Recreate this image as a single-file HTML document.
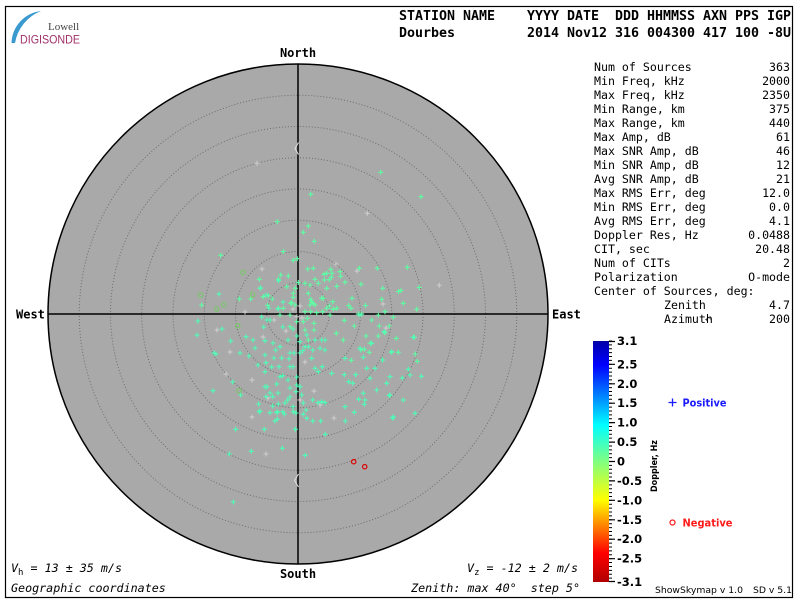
<!DOCTYPE html>
<html><head><meta charset="utf-8"><style>
html,body{margin:0;padding:0;background:#fff;}
svg{display:block;}
.mono{font-family:"DejaVu Sans Mono","Liberation Mono",monospace;}
.sans{font-family:"DejaVu Sans","Liberation Sans",sans-serif;}
</style></head><body>
<svg width="800" height="600" viewBox="0 0 800 600" xmlns="http://www.w3.org/2000/svg">
<defs>
<linearGradient id="jet" x1="0" y1="0" x2="0" y2="1">
<stop offset="0" stop-color="#0000a8"/>
<stop offset="0.1" stop-color="#0000ff"/>
<stop offset="0.35" stop-color="#00ffff"/>
<stop offset="0.5" stop-color="#80ff80"/>
<stop offset="0.66" stop-color="#ffff00"/>
<stop offset="0.88" stop-color="#ff0000"/>
<stop offset="1" stop-color="#b00000"/>
</linearGradient>
</defs>
<rect x="0" y="0" width="800" height="600" fill="#fff"/>
<rect x="5.5" y="6.5" width="787" height="591" fill="none" stroke="#000" stroke-width="1.2"/>

<!-- logo -->
<path d="M11.5,43 A33,33 0 0 1 41,11 A42,42 0 0 0 15,43 Z" fill="#3a9ad0"/>
<text x="48" y="30" font-family="Liberation Serif, serif" font-size="11" fill="#444">Lowell</text>
<text x="20" y="43.5" font-family="Liberation Sans, sans-serif" font-size="12" fill="#a0306a" textLength="60" lengthAdjust="spacingAndGlyphs">DIGISONDE</text>

<!-- header -->
<g class="mono" font-weight="bold" font-size="13.3" fill="#000">
<text x="399" y="20">STATION NAME</text>
<text x="527" y="20">YYYY DATE</text>
<text x="615" y="20" textLength="176" lengthAdjust="spacing">DDD HHMMSS AXN PPS IGP</text>
<text x="399" y="37">Dourbes</text>
<text x="527" y="37" textLength="264" lengthAdjust="spacing">2014 Nov12 316 004300 417 100 -8U</text>
</g>

<!-- sky map -->
<circle cx="298" cy="314" r="250" fill="#a9a9a9" stroke="#000" stroke-width="1.5"/>
<g fill="none" stroke="#6e6e6e" stroke-width="1" stroke-dasharray="1 2">
<circle cx="298" cy="314" r="31.25"/>
<circle cx="298" cy="314" r="62.5"/>
<circle cx="298" cy="314" r="93.75"/>
<circle cx="298" cy="314" r="125"/>
<circle cx="298" cy="314" r="156.25"/>
<circle cx="298" cy="314" r="187.5"/>
<circle cx="298" cy="314" r="218.75"/>
</g>
<path d="M48,314H548M298,64V564" stroke="#000" stroke-width="1.5"/>
<path d="M298.5,142.5L295,148.5L298.5,154.5M298.5,474L294.5,480.5L298.5,487" fill="none" stroke="#e2e2e2" stroke-width="1"/>

<g class="mono" font-weight="bold" font-size="12" fill="#000">
<text x="298" y="57" text-anchor="middle">North</text>
<text x="298" y="578" text-anchor="middle">South</text>
<text x="16" y="318.5">West</text>
<text x="552" y="318.5">East</text>
</g>

<!-- gray crosses -->
<path fill="none" stroke="#cfcfcf" stroke-width="1" d="
M367.3,213.3m-2.5,0h5m-2.5,-2.5v5
M297,316.7m-2.5,0h5m-2.5,-2.5v5
M300,306m-2.5,0h5m-2.5,-2.5v5
M293,309m-2.5,0h5m-2.5,-2.5v5
M302,318m-2.5,0h5m-2.5,-2.5v5
M263,337m-2.5,0h5m-2.5,-2.5v5
M262,269m-2.5,0h5m-2.5,-2.5v5
M439.3,285.3m-2.5,0h5m-2.5,-2.5v5
M230,352m-2.5,0h5m-2.5,-2.5v5
M217,330m-2.5,0h5m-2.5,-2.5v5
M300,400m-2.5,0h5m-2.5,-2.5v5
M320,405m-2.5,0h5m-2.5,-2.5v5
M268,398m-2.5,0h5m-2.5,-2.5v5
M226,374m-2.5,0h5m-2.5,-2.5v5
M383,304m-2.5,0h5m-2.5,-2.5v5
M386,328m-2.5,0h5m-2.5,-2.5v5
M252,417m-2.5,0h5m-2.5,-2.5v5
M266,454m-2.5,0h5m-2.5,-2.5v5
M336,264m-2.5,0h5m-2.5,-2.5v5
M357,271m-2.5,0h5m-2.5,-2.5v5
M274,320m-2.5,0h5m-2.5,-2.5v5
M286,331m-2.5,0h5m-2.5,-2.5v5
M245,312m-2.5,0h5m-2.5,-2.5v5
M305,362m-2.5,0h5m-2.5,-2.5v5
M314,391m-2.5,0h5m-2.5,-2.5v5
M334,418m-2.5,0h5m-2.5,-2.5v5
M252,380m-2.5,0h5m-2.5,-2.5v5
M257,163.3m-2.5,0h5m-2.5,-2.5v5
"/>

<!-- green crosses A -->
<path fill="none" stroke="#5cffa3" stroke-width="1.1" d="
M380.7,172.3m-2.5,0h5m-2.5,-2.5v5
M421,196.7m-2.5,0h5m-2.5,-2.5v5
M310.7,194.3m-2.5,0h5m-2.5,-2.5v5
M277.3,221.7m-2.5,0h5m-2.5,-2.5v5
M308.3,226m-2.5,0h5m-2.5,-2.5v5
M303.3,232.3m-2.5,0h5m-2.5,-2.5v5
M314.3,241.3m-2.5,0h5m-2.5,-2.5v5
M220.7,255.3m-2.5,0h5m-2.5,-2.5v5
M283.3,251.5m-2.5,0h5m-2.5,-2.5v5
M293.3,260.3m-2.5,0h5m-2.5,-2.5v5
M297.3,258.7m-2.5,0h5m-2.5,-2.5v5
M259.3,279.3m-2.5,0h5m-2.5,-2.5v5
M278.3,279.3m-2.5,0h5m-2.5,-2.5v5
M280.7,275m-2.5,0h5m-2.5,-2.5v5
M288.3,276m-2.5,0h5m-2.5,-2.5v5
M260,288.3m-2.5,0h5m-2.5,-2.5v5
M286.7,286.7m-2.5,0h5m-2.5,-2.5v5
M298.3,282.5m-2.5,0h5m-2.5,-2.5v5
M295.3,288.3m-2.5,0h5m-2.5,-2.5v5
M293.3,293.3m-2.5,0h5m-2.5,-2.5v5
M293.3,297.3m-2.5,0h5m-2.5,-2.5v5
M201.7,305m-2.5,0h5m-2.5,-2.5v5
M239.3,299m-2.5,0h5m-2.5,-2.5v5
M250.7,299m-2.5,0h5m-2.5,-2.5v5
M263.3,296.7m-2.5,0h5m-2.5,-2.5v5
M268.3,295.7m-2.5,0h5m-2.5,-2.5v5
M272.3,299m-2.5,0h5m-2.5,-2.5v5
M267.7,305.3m-2.5,0h5m-2.5,-2.5v5
M278.3,308.3m-2.5,0h5m-2.5,-2.5v5
M283.3,308.3m-2.5,0h5m-2.5,-2.5v5
M290.7,303.3m-2.5,0h5m-2.5,-2.5v5
M359.3,268.3m-2.5,0h5m-2.5,-2.5v5
M377.3,268.3m-2.5,0h5m-2.5,-2.5v5
M407.3,267.3m-2.5,0h5m-2.5,-2.5v5
M419.3,287.5m-2.5,0h5m-2.5,-2.5v5
M401,290.5m-2.5,0h5m-2.5,-2.5v5
M398.5,291.5m-2.5,0h5m-2.5,-2.5v5
M416.7,309.3m-2.5,0h5m-2.5,-2.5v5
M403.3,303.3m-2.5,0h5m-2.5,-2.5v5
M382.7,288.3m-2.5,0h5m-2.5,-2.5v5
M381.7,299.3m-2.5,0h5m-2.5,-2.5v5
M365.5,305.5m-2.5,0h5m-2.5,-2.5v5
M378.3,315m-2.5,0h5m-2.5,-2.5v5
M352,298.3m-2.5,0h5m-2.5,-2.5v5
M348.7,305.5m-2.5,0h5m-2.5,-2.5v5
M361,284.2m-2.5,0h5m-2.5,-2.5v5
M345,282.2m-2.5,0h5m-2.5,-2.5v5
M340,271.7m-2.5,0h5m-2.5,-2.5v5
M340.7,276.3m-2.5,0h5m-2.5,-2.5v5
M330.7,269.3m-2.5,0h5m-2.5,-2.5v5
M332,273.3m-2.5,0h5m-2.5,-2.5v5
M331.3,277.3m-2.5,0h5m-2.5,-2.5v5
M329.3,279.7m-2.5,0h5m-2.5,-2.5v5
M336.7,286.3m-2.5,0h5m-2.5,-2.5v5
M324,274.3m-2.5,0h5m-2.5,-2.5v5
M326.7,273.3m-2.5,0h5m-2.5,-2.5v5
M324.3,280m-2.5,0h5m-2.5,-2.5v5
M307.7,269m-2.5,0h5m-2.5,-2.5v5
M313.3,268.3m-2.5,0h5m-2.5,-2.5v5
M315,279.3m-2.5,0h5m-2.5,-2.5v5
M310,285m-2.5,0h5m-2.5,-2.5v5
M291.7,302.7m-2.5,0h5m-2.5,-2.5v5
M310.7,299.3m-2.5,0h5m-2.5,-2.5v5
M310,305m-2.5,0h5m-2.5,-2.5v5
M313.3,303.3m-2.5,0h5m-2.5,-2.5v5
M321.7,298.3m-2.5,0h5m-2.5,-2.5v5
M329.3,306m-2.5,0h5m-2.5,-2.5v5
M333.3,309.3m-2.5,0h5m-2.5,-2.5v5
M351,308.3m-2.5,0h5m-2.5,-2.5v5
M358.3,314m-2.5,0h5m-2.5,-2.5v5
M361.7,314m-2.5,0h5m-2.5,-2.5v5
M305,283.3m-2.5,0h5m-2.5,-2.5v5
M318.3,283.3m-2.5,0h5m-2.5,-2.5v5
M326.7,288.3m-2.5,0h5m-2.5,-2.5v5
M311.7,301.7m-2.5,0h5m-2.5,-2.5v5
M315,305m-2.5,0h5m-2.5,-2.5v5
M323.3,298.3m-2.5,0h5m-2.5,-2.5v5
M308.3,293.3m-2.5,0h5m-2.5,-2.5v5
M305,311.7m-2.5,0h5m-2.5,-2.5v5
M310.7,311.7m-2.5,0h5m-2.5,-2.5v5
M316.7,312.7m-2.5,0h5m-2.5,-2.5v5
M322.7,311.7m-2.5,0h5m-2.5,-2.5v5
M326.7,308.3m-2.5,0h5m-2.5,-2.5v5
M330,315m-2.5,0h5m-2.5,-2.5v5
M336.7,308.3m-2.5,0h5m-2.5,-2.5v5
M332.7,301.7m-2.5,0h5m-2.5,-2.5v5
M307.3,318.3m-2.5,0h5m-2.5,-2.5v5
M314,323.3m-2.5,0h5m-2.5,-2.5v5
M314,330m-2.5,0h5m-2.5,-2.5v5
M303.3,321.7m-2.5,0h5m-2.5,-2.5v5
M305,330m-2.5,0h5m-2.5,-2.5v5
M308.3,340m-2.5,0h5m-2.5,-2.5v5
M295,305m-2.5,0h5m-2.5,-2.5v5
M290,315m-2.5,0h5m-2.5,-2.5v5
M280,315m-2.5,0h5m-2.5,-2.5v5
M296.7,321.7m-2.5,0h5m-2.5,-2.5v5
M290,326.7m-2.5,0h5m-2.5,-2.5v5
M344.3,320.3m-2.5,0h5m-2.5,-2.5v5
M354.3,326m-2.5,0h5m-2.5,-2.5v5
M336.3,333.3m-2.5,0h5m-2.5,-2.5v5
M343.3,340m-2.5,0h5m-2.5,-2.5v5
M371.7,320m-2.5,0h5m-2.5,-2.5v5
M379.3,326m-2.5,0h5m-2.5,-2.5v5
M389.3,326m-2.5,0h5m-2.5,-2.5v5
M385,332.7m-2.5,0h5m-2.5,-2.5v5
M366,336m-2.5,0h5m-2.5,-2.5v5
M378.3,336m-2.5,0h5m-2.5,-2.5v5
M396.3,338.3m-2.5,0h5m-2.5,-2.5v5
M414.3,337.3m-2.5,0h5m-2.5,-2.5v5
M370.3,343.3m-2.5,0h5m-2.5,-2.5v5
M361,350m-2.5,0h5m-2.5,-2.5v5
M364.3,349.3m-2.5,0h5m-2.5,-2.5v5
M369.3,352.3m-2.5,0h5m-2.5,-2.5v5
M391.3,352.3m-2.5,0h5m-2.5,-2.5v5
M398.3,352.3m-2.5,0h5m-2.5,-2.5v5
M382.3,360m-2.5,0h5m-2.5,-2.5v5
M415.3,354m-2.5,0h5m-2.5,-2.5v5
M417.3,361.3m-2.5,0h5m-2.5,-2.5v5
M351.3,360.3m-2.5,0h5m-2.5,-2.5v5
M393.3,317.3m-2.5,0h5m-2.5,-2.5v5
M385,311.7m-2.5,0h5m-2.5,-2.5v5
"/>

<!-- green crosses B -->
<path fill="none" stroke="#4dffb8" stroke-width="1.1" d="
M198,321m-2.5,0h5m-2.5,-2.5v5
M197,335m-2.5,0h5m-2.5,-2.5v5
M222,329m-2.5,0h5m-2.5,-2.5v5
M230.7,341m-2.5,0h5m-2.5,-2.5v5
M214,353m-2.5,0h5m-2.5,-2.5v5
M240,353m-2.5,0h5m-2.5,-2.5v5
M249,356m-2.5,0h5m-2.5,-2.5v5
M258,365m-2.5,0h5m-2.5,-2.5v5
M213,390.7m-2.5,0h5m-2.5,-2.5v5
M232.7,382m-2.5,0h5m-2.5,-2.5v5
M240.7,395m-2.5,0h5m-2.5,-2.5v5
M258.7,404m-2.5,0h5m-2.5,-2.5v5
M260,411m-2.5,0h5m-2.5,-2.5v5
M261.7,317m-2.5,0h5m-2.5,-2.5v5
M267,320m-2.5,0h5m-2.5,-2.5v5
M270,320m-2.5,0h5m-2.5,-2.5v5
M263.7,327m-2.5,0h5m-2.5,-2.5v5
M282.7,327m-2.5,0h5m-2.5,-2.5v5
M253,340m-2.5,0h5m-2.5,-2.5v5
M246,336.7m-2.5,0h5m-2.5,-2.5v5
M255,348m-2.5,0h5m-2.5,-2.5v5
M265,340.7m-2.5,0h5m-2.5,-2.5v5
M273,343m-2.5,0h5m-2.5,-2.5v5
M275.7,350m-2.5,0h5m-2.5,-2.5v5
M280,346.7m-2.5,0h5m-2.5,-2.5v5
M288,340m-2.5,0h5m-2.5,-2.5v5
M293,329m-2.5,0h5m-2.5,-2.5v5
M297,336m-2.5,0h5m-2.5,-2.5v5
M300,341.7m-2.5,0h5m-2.5,-2.5v5
M290,353m-2.5,0h5m-2.5,-2.5v5
M300,353m-2.5,0h5m-2.5,-2.5v5
M281.7,358m-2.5,0h5m-2.5,-2.5v5
M274,358m-2.5,0h5m-2.5,-2.5v5
M265,355m-2.5,0h5m-2.5,-2.5v5
M266,362.7m-2.5,0h5m-2.5,-2.5v5
M289,358.7m-2.5,0h5m-2.5,-2.5v5
M294,353m-2.5,0h5m-2.5,-2.5v5
M290,366.7m-2.5,0h5m-2.5,-2.5v5
M293,366.7m-2.5,0h5m-2.5,-2.5v5
M279,366.7m-2.5,0h5m-2.5,-2.5v5
M271.7,367m-2.5,0h5m-2.5,-2.5v5
M282.7,375.7m-2.5,0h5m-2.5,-2.5v5
M280,376.7m-2.5,0h5m-2.5,-2.5v5
M288,380m-2.5,0h5m-2.5,-2.5v5
M276.7,384m-2.5,0h5m-2.5,-2.5v5
M265,371.7m-2.5,0h5m-2.5,-2.5v5
M265,386.7m-2.5,0h5m-2.5,-2.5v5
M267,386.7m-2.5,0h5m-2.5,-2.5v5
M270,393m-2.5,0h5m-2.5,-2.5v5
M272.7,396.7m-2.5,0h5m-2.5,-2.5v5
M266,396.7m-2.5,0h5m-2.5,-2.5v5
M278,393m-2.5,0h5m-2.5,-2.5v5
M290,388m-2.5,0h5m-2.5,-2.5v5
M290,397m-2.5,0h5m-2.5,-2.5v5
M287.7,400m-2.5,0h5m-2.5,-2.5v5
M296.7,377m-2.5,0h5m-2.5,-2.5v5
M296.7,385m-2.5,0h5m-2.5,-2.5v5
M296,391.7m-2.5,0h5m-2.5,-2.5v5
M285,403m-2.5,0h5m-2.5,-2.5v5
M282.7,411.7m-2.5,0h5m-2.5,-2.5v5
M293,406.7m-2.5,0h5m-2.5,-2.5v5
M296,413m-2.5,0h5m-2.5,-2.5v5
M278.3,404m-2.5,0h5m-2.5,-2.5v5
M272.7,406m-2.5,0h5m-2.5,-2.5v5
M270,412.7m-2.5,0h5m-2.5,-2.5v5
M277,412.7m-2.5,0h5m-2.5,-2.5v5
M278.7,280.7m-2.5,0h5m-2.5,-2.5v5
M266,295m-2.5,0h5m-2.5,-2.5v5
M283,302m-2.5,0h5m-2.5,-2.5v5
M278,309m-2.5,0h5m-2.5,-2.5v5
M268.7,308m-2.5,0h5m-2.5,-2.5v5
M260.7,288m-2.5,0h5m-2.5,-2.5v5
M300,386.7m-2.5,0h5m-2.5,-2.5v5
M301.7,395m-2.5,0h5m-2.5,-2.5v5
M303.3,403m-2.5,0h5m-2.5,-2.5v5
M306,410m-2.5,0h5m-2.5,-2.5v5
M312.7,400m-2.5,0h5m-2.5,-2.5v5
M318,402.7m-2.5,0h5m-2.5,-2.5v5
M321.7,401.7m-2.5,0h5m-2.5,-2.5v5
M325,402.7m-2.5,0h5m-2.5,-2.5v5
M331.7,373.3m-2.5,0h5m-2.5,-2.5v5
M322.3,366.7m-2.5,0h5m-2.5,-2.5v5
M318.3,371.7m-2.5,0h5m-2.5,-2.5v5
M315,368.3m-2.5,0h5m-2.5,-2.5v5
M311.7,358.3m-2.5,0h5m-2.5,-2.5v5
M302.7,350.7m-2.5,0h5m-2.5,-2.5v5
M305,346.7m-2.5,0h5m-2.5,-2.5v5
M308.3,346.7m-2.5,0h5m-2.5,-2.5v5
M312.7,350m-2.5,0h5m-2.5,-2.5v5
M320,348.3m-2.5,0h5m-2.5,-2.5v5
M315,340m-2.5,0h5m-2.5,-2.5v5
M321.7,340m-2.5,0h5m-2.5,-2.5v5
M325,350m-2.5,0h5m-2.5,-2.5v5
M306.7,335m-2.5,0h5m-2.5,-2.5v5
M325,340m-2.5,0h5m-2.5,-2.5v5
M345,358.3m-2.5,0h5m-2.5,-2.5v5
M360,315m-2.5,0h5m-2.5,-2.5v5
M371.7,343.3m-2.5,0h5m-2.5,-2.5v5
M360,348.3m-2.5,0h5m-2.5,-2.5v5
M384,331.7m-2.5,0h5m-2.5,-2.5v5
M391.7,351.7m-2.5,0h5m-2.5,-2.5v5
M413.3,337.3m-2.5,0h5m-2.5,-2.5v5
M382.7,360m-2.5,0h5m-2.5,-2.5v5
M363.3,357.3m-2.5,0h5m-2.5,-2.5v5
M366.7,368.3m-2.5,0h5m-2.5,-2.5v5
M375,368.3m-2.5,0h5m-2.5,-2.5v5
M344.3,374.7m-2.5,0h5m-2.5,-2.5v5
M355.7,374.7m-2.5,0h5m-2.5,-2.5v5
M348.7,381.7m-2.5,0h5m-2.5,-2.5v5
M352.7,383.3m-2.5,0h5m-2.5,-2.5v5
M370,378.3m-2.5,0h5m-2.5,-2.5v5
M390,376.7m-2.5,0h5m-2.5,-2.5v5
M386.7,383.3m-2.5,0h5m-2.5,-2.5v5
M402.3,378m-2.5,0h5m-2.5,-2.5v5
M408.3,369.3m-2.5,0h5m-2.5,-2.5v5
M410,375m-2.5,0h5m-2.5,-2.5v5
M345,406.7m-2.5,0h5m-2.5,-2.5v5
M354.3,412.3m-2.5,0h5m-2.5,-2.5v5
M363.3,393.3m-2.5,0h5m-2.5,-2.5v5
M365,400m-2.5,0h5m-2.5,-2.5v5
M376.7,390m-2.5,0h5m-2.5,-2.5v5
M390,395m-2.5,0h5m-2.5,-2.5v5
M403.3,400m-2.5,0h5m-2.5,-2.5v5
M393.3,416.7m-2.5,0h5m-2.5,-2.5v5
M415,413.3m-2.5,0h5m-2.5,-2.5v5
M421.3,376.3m-2.5,0h5m-2.5,-2.5v5
M358.7,399.3m-2.5,0h5m-2.5,-2.5v5
M364.3,404.3m-2.5,0h5m-2.5,-2.5v5
M389.3,395.7m-2.5,0h5m-2.5,-2.5v5
M259.3,411.7m-2.5,0h5m-2.5,-2.5v5
M277.3,411.7m-2.5,0h5m-2.5,-2.5v5
M284.3,414m-2.5,0h5m-2.5,-2.5v5
M275,421m-2.5,0h5m-2.5,-2.5v5
M277.3,419.3m-2.5,0h5m-2.5,-2.5v5
M293.3,411.7m-2.5,0h5m-2.5,-2.5v5
M235.7,429.3m-2.5,0h5m-2.5,-2.5v5
M264.3,429.3m-2.5,0h5m-2.5,-2.5v5
M295.3,429.3m-2.5,0h5m-2.5,-2.5v5
M229.3,454m-2.5,0h5m-2.5,-2.5v5
M251.3,451.3m-2.5,0h5m-2.5,-2.5v5
M282.3,448.3m-2.5,0h5m-2.5,-2.5v5
M233.3,502m-2.5,0h5m-2.5,-2.5v5
M303.3,414.3m-2.5,0h5m-2.5,-2.5v5
M306.7,418.3m-2.5,0h5m-2.5,-2.5v5
M312.7,421m-2.5,0h5m-2.5,-2.5v5
M320.7,421m-2.5,0h5m-2.5,-2.5v5
M325.3,434.3m-2.5,0h5m-2.5,-2.5v5
M345.3,421m-2.5,0h5m-2.5,-2.5v5
M392.7,418.3m-2.5,0h5m-2.5,-2.5v5
M305.3,455.3m-2.5,0h5m-2.5,-2.5v5
M219,294m-2.5,0h5m-2.5,-2.5v5
M216,354m-2.5,0h5m-2.5,-2.5v5
"/>

<!-- olive circles -->
<g fill="none" stroke="#78c868" stroke-width="1.1">
<circle cx="243" cy="272.5" r="2.2"/>
<circle cx="200.7" cy="295" r="2.2"/>
<circle cx="252.7" cy="294.5" r="2.2"/>
<circle cx="223.7" cy="304.7" r="2.2"/>
<circle cx="216.7" cy="309" r="2.2"/>
<circle cx="237.7" cy="325.7" r="2.2"/>
<circle cx="239" cy="390.7" r="2.2"/>
</g>
<!-- red circles -->
<g fill="none" stroke="#e00000" stroke-width="1.2">
<circle cx="353.7" cy="461.7" r="2.2"/>
<circle cx="364.7" cy="466.7" r="2.2"/>
</g>

<!-- bottom texts -->
<g class="mono" font-style="italic" font-size="11.7" fill="#000">
<text x="11" y="572">V<tspan font-size="9" font-style="normal" dy="3">h</tspan><tspan dy="-3" xml:space="preserve"> = 13 ± 35 m/s</tspan></text>
<text x="11" y="592">Geographic coordinates</text>
<text x="578" y="572" text-anchor="end">V<tspan font-size="9" font-style="normal" dy="3">z</tspan><tspan dy="-3" xml:space="preserve"> = -12 ± 2 m/s</tspan></text>
<text x="580" y="592" text-anchor="end" xml:space="preserve">Zenith: max 40°  step 5°</text>
</g>

<!-- stats table -->
<g class="mono" font-size="11.6" fill="#000">
<text x="594" y="71">Num of Sources</text><text x="790" y="71" text-anchor="end">363</text>
<text x="594" y="85">Min Freq, kHz</text><text x="790" y="85" text-anchor="end">2000</text>
<text x="594" y="99">Max Freq, kHz</text><text x="790" y="99" text-anchor="end">2350</text>
<text x="594" y="113">Min Range, km</text><text x="790" y="113" text-anchor="end">375</text>
<text x="594" y="127">Max Range, km</text><text x="790" y="127" text-anchor="end">440</text>
<text x="594" y="141">Max Amp, dB</text><text x="790" y="141" text-anchor="end">61</text>
<text x="594" y="155">Max SNR Amp, dB</text><text x="790" y="155" text-anchor="end">46</text>
<text x="594" y="169">Min SNR Amp, dB</text><text x="790" y="169" text-anchor="end">12</text>
<text x="594" y="183">Avg SNR Amp, dB</text><text x="790" y="183" text-anchor="end">21</text>
<text x="594" y="197">Max RMS Err, deg</text><text x="790" y="197" text-anchor="end">12.0</text>
<text x="594" y="211">Min RMS Err, deg</text><text x="790" y="211" text-anchor="end">0.0</text>
<text x="594" y="225">Avg RMS Err, deg</text><text x="790" y="225" text-anchor="end">4.1</text>
<text x="594" y="239">Doppler Res, Hz</text><text x="790" y="239" text-anchor="end">0.0488</text>
<text x="594" y="253">CIT, sec</text><text x="790" y="253" text-anchor="end">20.48</text>
<text x="594" y="267">Num of CITs</text><text x="790" y="267" text-anchor="end">2</text>
<text x="594" y="281">Polarization</text><text x="790" y="281" text-anchor="end">O-mode</text>
<text x="594" y="295">Center of Sources, deg:</text>
<text x="664" y="309">Zenith</text><text x="790" y="309" text-anchor="end">4.7</text>
<text x="664" y="323">Azimuth</text><text x="790" y="323" text-anchor="end">200</text>
</g>
<text x="705" y="322" font-family="DejaVu Sans, sans-serif" font-size="7" fill="#000">↶</text>

<!-- colorbar -->
<rect x="593" y="341" width="16" height="241" fill="url(#jet)"/>
<path fill="none" stroke="#000" stroke-width="1" d="M609,341h3m-3,3.887h3m-3,3.887h3m-3,3.887h3m-3,3.887h3m-3,3.887h3m-3,3.887h3m-3,3.887h3m-3,3.887h3m-3,3.887h3m-3,3.887h3m-3,3.887h3m-3,3.887h3m-3,3.887h3m-3,3.887h3m-3,3.887h3m-3,3.887h3m-3,3.887h3m-3,3.887h3m-3,3.887h3m-3,3.887h3m-3,3.887h3m-3,3.887h3m-3,3.887h3m-3,3.887h3m-3,3.887h3m-3,3.887h3m-3,3.887h3m-3,3.887h3m-3,3.887h3m-3,3.887h3m-3,3.887h3m-3,3.887h3m-3,3.887h3m-3,3.887h3m-3,3.887h3m-3,3.887h3m-3,3.887h3m-3,3.887h3m-3,3.887h3m-3,3.887h3m-3,3.887h3m-3,3.887h3m-3,3.887h3m-3,3.887h3m-3,3.887h3m-3,3.887h3m-3,3.887h3m-3,3.887h3m-3,3.887h3m-3,3.887h3m-3,3.887h3m-3,3.887h3m-3,3.887h3m-3,3.887h3m-3,3.887h3m-3,3.887h3m-3,3.887h3m-3,3.887h3m-3,3.887h3m-3,3.887h3m-3,3.887h3"/>
<path fill="none" stroke="#000" stroke-width="1.2" d="M609,341.5h6M609,364.3h6M609,383.8h6M609,403.2h6M609,422.6h6M609,442.1h6M609,461.5h6M609,480.9h6M609,500.3h6M609,519.8h6M609,539.2h6M609,558.7h6M609,581.5h6"/>
<g class="sans" font-weight="bold" font-size="11.5" fill="#000">
<text x="617" y="345">3.1</text>
<text x="617" y="368.3">2.5</text>
<text x="617" y="387.8">2.0</text>
<text x="617" y="407.2">1.5</text>
<text x="617" y="426.6">1.0</text>
<text x="617" y="446.1">0.5</text>
<text x="617" y="465.5">0</text>
<text x="617" y="484.9">-0.5</text>
<text x="617" y="504.3">-1.0</text>
<text x="617" y="523.8">-1.5</text>
<text x="617" y="543.2">-2.0</text>
<text x="617" y="562.7">-2.5</text>
<text x="617" y="586">-3.1</text>
</g>
<text class="sans" font-weight="bold" font-size="9" fill="#000" transform="translate(657,492) rotate(-90)" textLength="52" lengthAdjust="spacingAndGlyphs">Doppler, Hz</text>

<path d="M668.5,402.5h8M672.5,398.5v8" stroke="#1a1aff" stroke-width="1.3"/>
<text x="682.5" y="406.5" class="sans" font-weight="bold" font-size="10.5" fill="#1a1aff" textLength="44" lengthAdjust="spacingAndGlyphs">Positive</text>
<circle cx="672.5" cy="522.5" r="2.5" fill="none" stroke="#ff1a1a" stroke-width="1.2"/>
<text x="682.5" y="526.5" class="sans" font-weight="bold" font-size="10.5" fill="#ff1a1a" textLength="50" lengthAdjust="spacingAndGlyphs">Negative</text>

<text x="655" y="593" class="sans" font-size="9.2" fill="#000" textLength="88" lengthAdjust="spacingAndGlyphs">ShowSkymap v 1.0</text>
<text x="753" y="593" class="sans" font-size="9.2" fill="#000" textLength="39" lengthAdjust="spacingAndGlyphs">SD v 5.1</text>
</svg>
</body></html>
